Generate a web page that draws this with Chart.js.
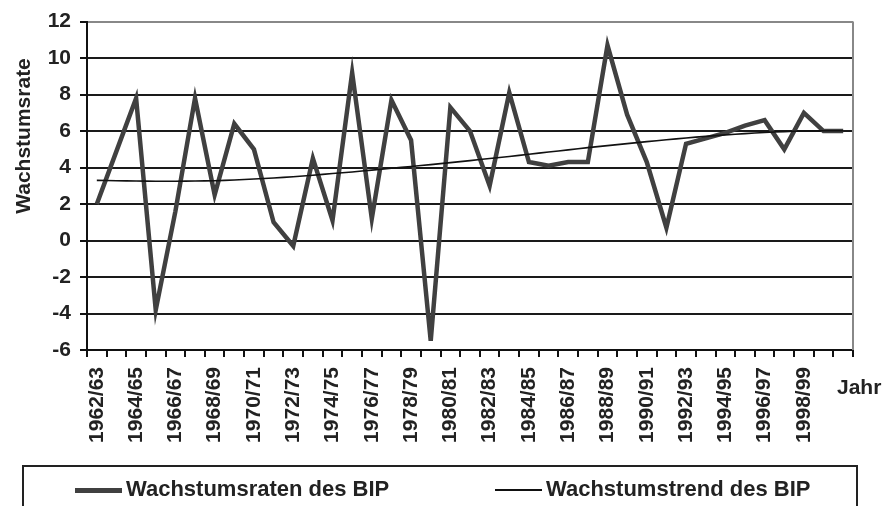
<!DOCTYPE html>
<html>
<head>
<meta charset="utf-8">
<script src="https://cdn.jsdelivr.net/npm/chart.js@4/dist/chart.umd.min.js"></script>
<style>
  html, body { margin: 0; padding: 0; background: #fff; overflow: hidden; }
  #wrap { position: relative; width: 886px; height: 506px; }
  #c { position: absolute; left: 0; top: 0; }
  #legend {
    position: absolute; left: 22px; top: 465px; width: 836px; height: 60px;
    border: 2px solid #222; box-sizing: border-box;
    font-family: 'Liberation Sans', Arial, sans-serif; font-weight: bold; font-size: 22px; color: #222;
  }
  .item { position: absolute; top: 9px; height: 26px; line-height: 26px; white-space: nowrap; }
  .sample { display: inline-block; width: 47px; vertical-align: middle; margin-right: 4px; }
</style>
</head>
<body>
<div id="wrap">
  <canvas id="c" width="886" height="506"></canvas>
  <div id="legend">
    <div class="item" style="left:51px"><span class="sample" style="border-top:5px solid #404040;"></span>Wachstumsraten des BIP</div>
    <div class="item" style="left:471px"><span class="sample" style="border-top:2px solid #111;"></span>Wachstumstrend des BIP</div>
  </div>
</div>
<script>
const categories = ["1962/63","1963/64","1964/65","1965/66","1966/67","1967/68","1968/69","1969/70","1970/71","1971/72",
  "1972/73","1973/74","1974/75","1975/76","1976/77","1977/78","1978/79","1979/80","1980/81","1981/82",
  "1982/83","1983/84","1984/85","1985/86","1986/87","1987/88","1988/89","1989/90","1990/91","1991/92",
  "1992/93","1993/94","1994/95","1995/96","1996/97","1997/98","1998/99","1999/00","2000/01"];
const growthRates = [2.0, 4.9, 7.8, -3.8, 1.6, 7.8, 2.5, 6.4, 5.0, 1.0,
  -0.3, 4.5, 1.1, 9.2, 1.2, 7.7, 5.5, -5.5, 7.3, 6.0,
  3.0, 8.1, 4.3, 4.1, 4.3, 4.3, 10.7, 6.9, 4.3, 0.7,
  5.3, 5.6, 5.9, 6.3, 6.6, 5.0, 7.0, 6.0, 6.0];
const growthTrend = [3.3, 3.28, 3.26, 3.25, 3.25, 3.26, 3.28, 3.32, 3.37, 3.43,
  3.5, 3.58, 3.67, 3.76, 3.86, 3.96, 4.06, 4.16, 4.27, 4.38,
  4.5, 4.61, 4.73, 4.85, 4.97, 5.09, 5.2, 5.31, 5.42, 5.52,
  5.62, 5.71, 5.79, 5.86, 5.92, 5.97, 6.0, 6.02, 6.02];
const seriesNames = ["Wachstumsraten des BIP", "Wachstumstrend des BIP"];
const yTicks = [-6, -4, -2, 0, 2, 4, 6, 8, 10, 12];
const yTitle = "Wachstumsrate";
const xTitle = "Jahr";

const FONT = "'Liberation Sans', Arial, sans-serif";

const framePlugin = {
  id: 'frame',
  afterDraw(chart) {
    const { ctx, chartArea: a } = chart;
    ctx.save();
    ctx.strokeStyle = '#888';
    ctx.lineWidth = 2;
    ctx.beginPath();
    ctx.moveTo(a.right, a.top);
    ctx.lineTo(a.right, a.bottom);
    ctx.stroke();
    ctx.fillStyle = '#222';
    ctx.font = 'bold 21px ' + FONT;
    ctx.textBaseline = 'middle';
    ctx.textAlign = 'left';
    ctx.fillText(xTitle, 837, 388);
    ctx.translate(24, 136);
    ctx.rotate(-Math.PI / 2);
    ctx.textAlign = 'center';
    ctx.fillText(yTitle, 0, 0);
    ctx.restore();
  }
};

new Chart(document.getElementById('c'), {
  type: 'line',
  data: {
    labels: categories,
    datasets: [
      { label: seriesNames[0], data: growthRates, borderColor: '#404040', borderWidth: 4.5,
        pointRadius: 0, tension: 0, borderJoinStyle: 'miter', order: 2 },
      { label: seriesNames[1], data: growthTrend, borderColor: '#111', borderWidth: 1.6,
        pointRadius: 0, tension: 0.3, order: 1 }
    ]
  },
  options: {
    responsive: false,
    devicePixelRatio: 1,
    animation: false,
    layout: { padding: { left: 0, right: 33, top: 19, bottom: 0 } },
    plugins: { legend: { display: false }, tooltip: { enabled: false } },
    scales: {
      x: {
        offset: true,
        afterFit(s) { s.height = 156; },
        grid: { offset: true, drawOnChartArea: false, drawTicks: true, tickLength: 7, tickColor: '#111', lineWidth: 2 },
        border: { color: '#111', width: 2 },
        ticks: {
          autoSkip: false, maxRotation: 90, minRotation: 90, padding: 10,
          color: '#222', font: { family: FONT, weight: 'bold', size: 21 },
          callback(v, i) { return (i % 2 === 0 && i < 38) ? categories[i] : ''; }
        }
      },
      y: {
        min: -6, max: 12,
        afterFit(s) { s.width = 87; },
        afterBuildTicks(s) { s.ticks = yTicks.map(v => ({ value: v })); },
        grid: {
          color: ctx => (ctx.tick && ctx.tick.value === 12) ? '#888' : '#1a1a1a',
          lineWidth: 2, tickLength: 7, tickColor: '#111'
        },
        border: { color: '#111', width: 2 },
        ticks: { padding: 9, color: '#222', font: { family: FONT, weight: 'bold', size: 21 } }
      }
    }
  },
  plugins: [framePlugin]
});
</script>
</body>
</html>
